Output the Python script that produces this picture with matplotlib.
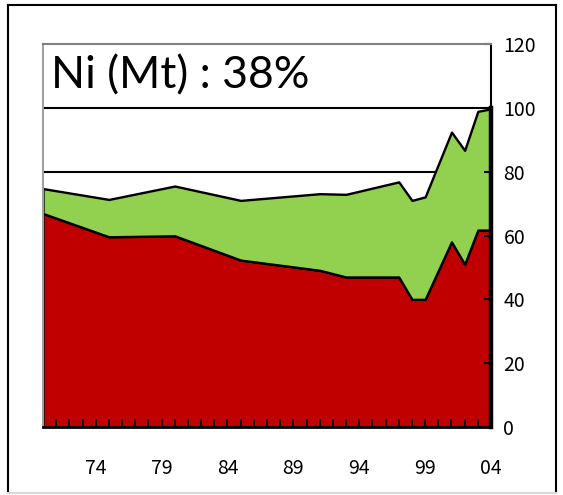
import numpy as np
import matplotlib
matplotlib.use('Agg')
import matplotlib.pyplot as plt
from matplotlib.lines import Line2D

# Ni production share (vertex years only)
years = [1970, 1975, 1980, 1985, 1991, 1993, 1997, 1998, 1999, 2001, 2002, 2003, 2004]
red_vals = [66.9, 59.6, 59.9, 52.3, 49.1, 47.0, 47.0, 40.0, 40.0, 58.0, 51.0, 61.7, 61.7]
green_vals = [7.8, 11.7, 15.6, 18.7, 24.0, 25.9, 29.8, 31.0, 32.1, 34.4, 35.7, 37.2, 38.0]
yticks = [0, 20, 40, 60, 80, 100, 120]
xlabel_years = [1974, 1979, 1984, 1989, 1994, 1999, 2004]
title = 'Ni (Mt) : 38%'

W, H = 563, 495
fig = plt.figure(figsize=(W/100, H/100), dpi=100)
ax = fig.add_axes([43/W, 1-427/H, 448/W, 383/H])

red = np.array(red_vals)
top = red + np.array(green_vals)
ax.fill_between(years, 0, red, facecolor='#C00000', edgecolor='black', lw=1.7, zorder=1.5)
ax.fill_between(years, red, top, facecolor='#92D050', edgecolor='black', lw=1.7, zorder=1.5)

for v in yticks[1:-1]:
    ax.axhline(v, color='black', lw=1.5, zorder=1)

ax.set_xlim(1970, 2004)
ax.set_ylim(0, 120)
ax.set_axisbelow(False)

tick_font = dict(family=['Noto Sans CJK JP', 'DejaVu Sans'], size=14)
ax.yaxis.tick_right()
ax.set_yticks(yticks)
ax.set_yticklabels([str(v) for v in yticks], fontdict=tick_font)
ax.tick_params(axis='y', direction='in', length=5, width=1.5, pad=9, right=True, left=False)

ax.set_xticks(xlabel_years)
ax.set_xticklabels(['%02d' % (y % 100) for y in xlabel_years], fontdict=tick_font)
ax.set_xticks(range(1971, 2004), minor=True)
ax.tick_params(axis='x', which='both', direction='in', length=6, width=1.3, pad=22,
               color='black', zorder=6)

ax.spines['left'].set_color('#a0a0a0')
ax.spines['left'].set_linewidth(1.5)
ax.spines['top'].set_color('#808080')
ax.spines['top'].set_linewidth(1.5)
ax.spines['right'].set_linewidth(1.5)
ax.spines['bottom'].set_linewidth(2)
for s in ax.spines.values():
    s.set_zorder(5)
# heavier right axis below the title band
ax.plot([2004, 2004], [0, 100], color='black', lw=3.2, clip_on=False, zorder=5)

ax.text(1970.6, 110, title, fontsize=32, family='Lato', va='center', ha='left')

# outer chart frame
def frame(x0, y0, x1, y1, c, lw):
    fig.add_artist(Line2D([x0/W, x1/W], [1-y0/H, 1-y1/H], color=c, lw=lw))
frame(8, 5, 556, 5, 'black', 1.5)
frame(8, 5, 8, 493, 'black', 1.5)
frame(556, 5, 556, 493, 'black', 1.5)
frame(8, 493, 556, 493, '#d9d9d9', 1.5)

fig.savefig('out.png', dpi=100)
